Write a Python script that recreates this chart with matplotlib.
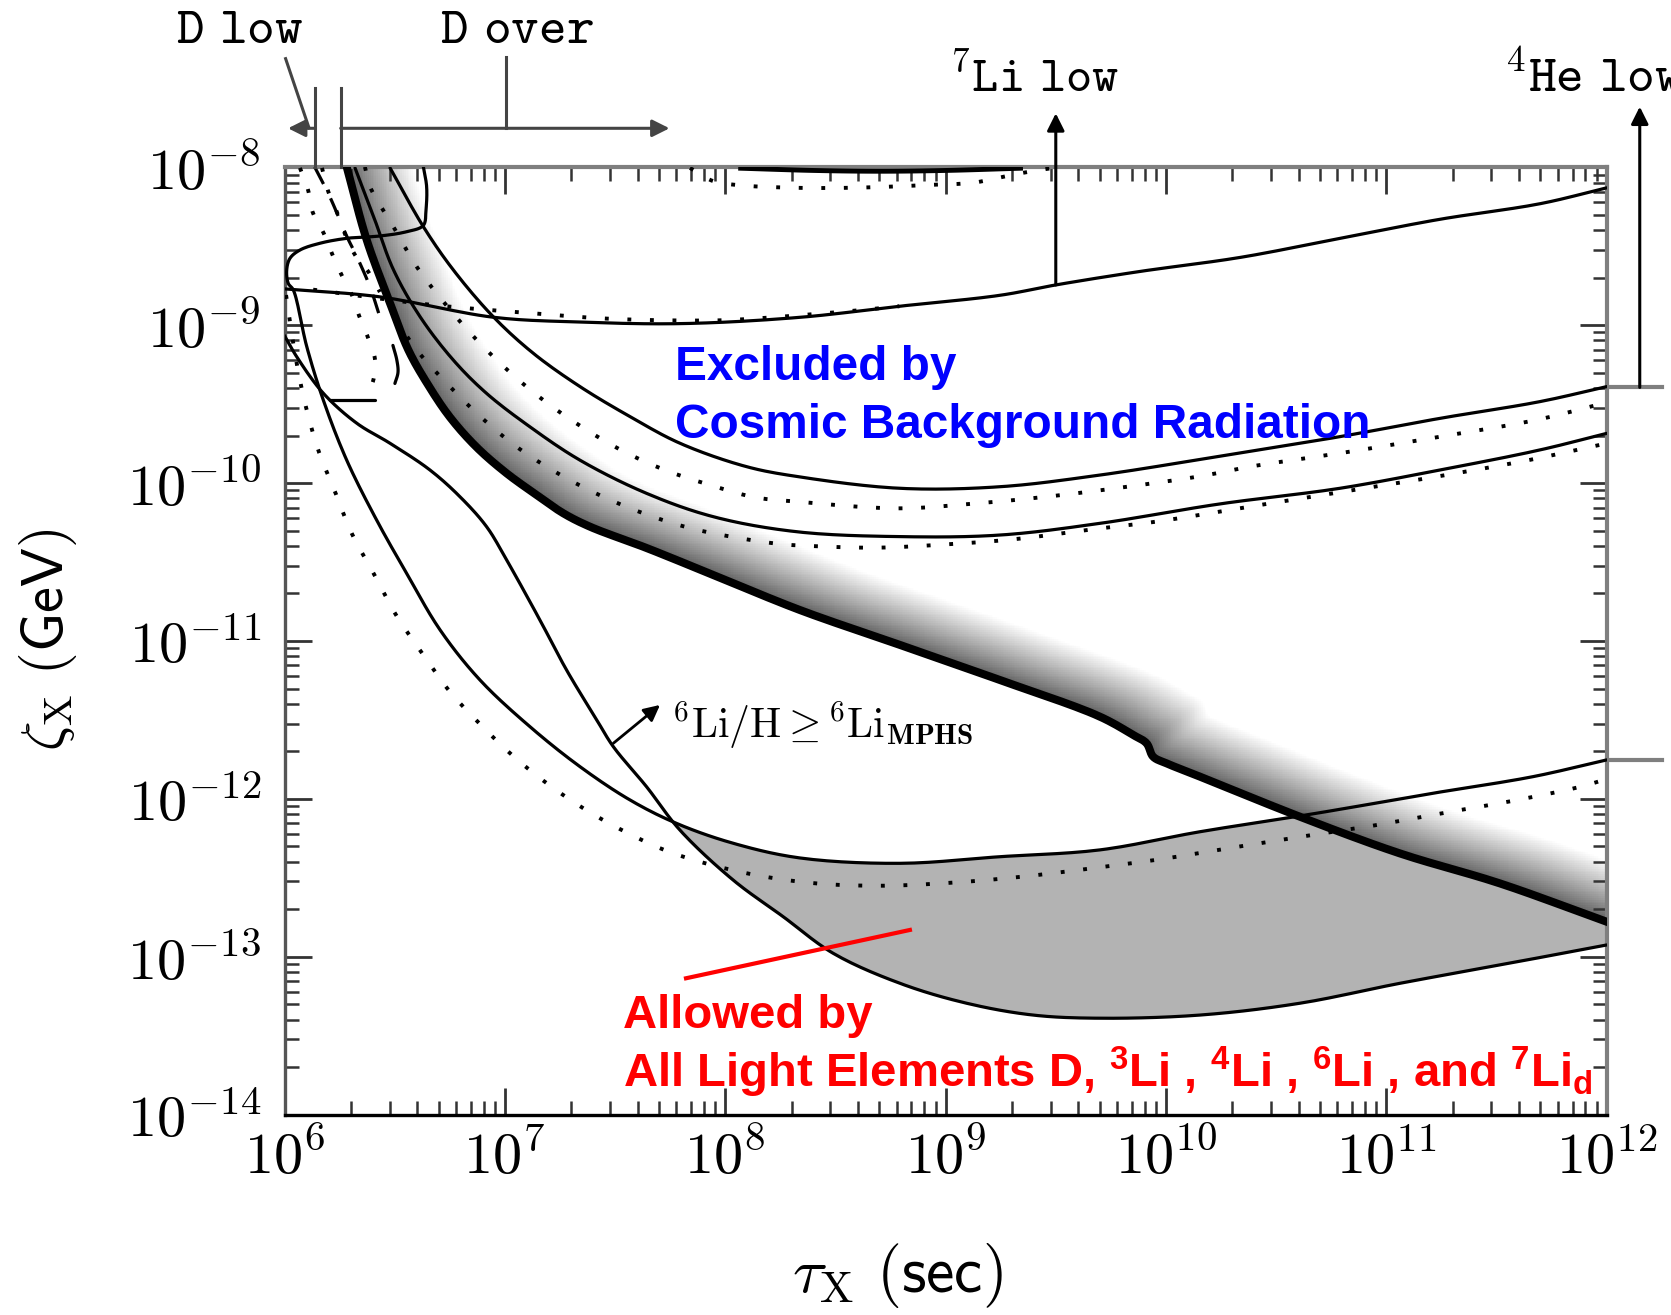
import numpy as np
import matplotlib
matplotlib.use("Agg")
import matplotlib.pyplot as plt
from matplotlib.ticker import LogLocator, FuncFormatter, NullFormatter

plt.rcParams['mathtext.fontset'] = 'cm'
# fonts used by the "custom" math family (bold sans for the red caption)
plt.rcParams['mathtext.rm'] = 'Liberation Sans:bold'
plt.rcParams['mathtext.it'] = 'Liberation Sans:bold'
plt.rcParams['mathtext.bf'] = 'Liberation Sans:bold'

# ---------------- data (log10 tau [s], log10 zeta [GeV]) ----------------
li7_X = [6.00, 6.43, 6.95, 7.34, 7.80, 8.34, 8.79, 9.25, 9.50, 9.88, 10.34, 10.79, 11.24, 11.70, 12.00]
li7_Y = [-8.77, -8.82, -8.95, -8.98, -8.99, -8.95, -8.88, -8.81, -8.745, -8.66, -8.57, -8.45, -8.33, -8.23, -8.13]
li7_dot_X = [6.13, 6.66, 7.13, 7.49, 7.94, 8.11, 8.57, 8.79]
li7_dot_Y = [-8.775, -8.87, -8.925, -8.96, -8.97, -8.96, -8.91, -8.88]

top_dot_X = [7.840, 7.944, 8.052, 8.262, 8.489, 8.702, 8.915, 9.124, 9.233, 9.323, 9.428, 9.518]
top_dot_Y = [-8.004, -8.087, -8.112, -8.128, -8.131, -8.125, -8.112, -8.098, -8.068, -8.042, -8.017, -7.998]
top_solid_X = [8.07, 8.40, 8.70, 9.00, 9.34]
top_solid_Y = [-8.006, -8.02, -8.025, -8.02, -8.006]

thick_X = [6.282, 6.373, 6.479, 6.562, 6.652, 6.751, 6.872, 7.008, 7.144, 7.265, 7.386, 7.643, 7.946,
           8.339, 8.793, 9.246, 9.700, 9.851, 9.912, 9.942, 10.003, 10.154, 10.608, 11.061, 11.515, 12.0]
thick_Y = [-7.996, -8.460, -8.861, -9.157, -9.379, -9.583, -9.773, -9.938, -10.075, -10.191, -10.276, -10.411, -10.582,
           -10.804, -11.025, -11.247, -11.479, -11.595, -11.648, -11.733, -11.775, -11.859, -12.113, -12.345, -12.535, -12.778]

outer_X = [6.479, 6.630, 6.766, 6.947, 7.129, 7.341, 7.568, 7.795, 8.097, 8.339, 8.793, 9.247, 9.701,
           10.230, 10.789, 11.243, 11.697, 12.0]
outer_Y = [-8.004, -8.376, -8.650, -8.946, -9.178, -9.389, -9.579, -9.748, -9.896, -9.961, -10.033, -10.023, -9.949,
           -9.833, -9.706, -9.590, -9.484, -9.389]
outer_dot_X = [6.365, 6.388, 6.494, 6.600, 6.725, 6.868, 7.015, 7.174, 7.348, 7.533, 7.726, 7.931, 8.135, 8.331,
               8.778, 9.095, 9.420, 9.738, 10.162, 10.381, 10.834, 11.243, 11.681, 11.984]
outer_dot_Y = [-7.998, -8.123, -8.376, -8.630, -8.858, -9.087, -9.288, -9.474, -9.643, -9.795, -9.917, -10.012,
               -10.090, -10.118, -10.160, -10.134, -10.092, -10.039, -9.955, -9.896, -9.801, -9.706, -9.600, -9.495]

mid_X = [6.320, 6.410, 6.494, 6.615, 6.766, 6.917, 7.114, 7.341, 7.643, 7.946, 8.324, 8.793, 9.247, 9.700,
         10.244, 10.789, 11.243, 11.697, 12.0]
mid_Y = [-8.004, -8.334, -8.648, -8.946, -9.221, -9.432, -9.644, -9.855, -10.065, -10.213, -10.308, -10.339,
         -10.329, -10.255, -10.132, -10.033, -9.917, -9.790, -9.685]
mid_dot_X = [6.501, 6.600, 6.743, 6.892, 7.056, 7.240, 7.428, 7.628, 7.832, 8.041, 8.248, 8.354, 8.679, 9.004,
             9.322, 9.640, 9.957, 10.381, 10.804, 11.228, 11.651, 11.969]
mid_dot_Y = [-8.954, -9.157, -9.378, -9.583, -9.773, -9.938, -10.075, -10.191, -10.282, -10.343, -10.386, -10.396,
             -10.409, -10.388, -10.354, -10.297, -10.244, -10.149, -10.054, -9.959, -9.853, -9.758]

li6_X = [6.0, 6.055, 6.176, 6.328, 6.479, 6.660, 6.796, 6.917, 7.008, 7.159, 7.280, 7.417, 7.492, 7.643, 7.794,
         8.036, 8.263, 8.490, 8.793, 9.095, 9.397, 9.700, 10.154, 10.608, 11.061, 11.515, 12.0]
li6_Y = [-9.066, -9.199, -9.431, -9.621, -9.748, -9.917, -10.086, -10.276, -10.487, -10.867, -11.184, -11.500,
         -11.669, -11.923, -12.197, -12.514, -12.746, -12.978, -13.168, -13.294, -13.369, -13.389, -13.369,
         -13.294, -13.168, -13.052, -12.925]

loop_X = [6.630, 6.645, 6.642, 6.630, 6.554, 6.433, 6.282, 6.161, 6.070, 6.025, 6.010, 6.017, 6.040, 6.101,
          6.176, 6.282, 6.418, 6.554, 6.706, 6.887, 7.114, 7.341, 7.568, 7.779, 8.036, 8.339, 8.793, 9.247,
          9.700, 10.154, 10.683, 11.212, 11.666, 12.0]
loop_Y = [-7.996, -8.123, -8.270, -8.368, -8.408, -8.435, -8.450, -8.481, -8.524, -8.576, -8.650, -8.735,
          -8.777, -9.136, -9.474, -9.854, -10.234, -10.571, -10.930, -11.247, -11.543, -11.796, -12.007,
          -12.155, -12.281, -12.374, -12.408, -12.366, -12.323, -12.208, -12.091, -11.964, -11.859, -11.753]

dotc_X = [6.007, 6.030, 6.061, 6.097, 6.153, 6.229, 6.305, 6.406, 6.506, 6.623, 6.746, 6.887, 7.038, 7.197,
          7.374, 7.560, 7.757, 8.064, 8.381, 8.699, 9.024, 9.345, 9.662, 9.980, 10.300, 10.615, 10.937,
          11.250, 11.571, 11.881, 12.0]
dotc_Y = [-8.809, -9.030, -9.284, -9.516, -9.790, -10.054, -10.318, -10.576, -10.835, -11.074, -11.313,
          -11.526, -11.729, -11.908, -12.075, -12.218, -12.341, -12.461, -12.531, -12.550, -12.531, -12.493,
          -12.440, -12.381, -12.309, -12.239, -12.170, -12.091, -12.013, -11.923, -11.874]

dlow1_X = [6.070, 6.107, 6.127, 6.178, 6.218, 6.259, 6.306, 6.340, 6.380, 6.411, 6.401, 6.370]
dlow1_Y = [-8.004, -8.144, -8.281, -8.418, -8.555, -8.682, -8.809, -8.946, -9.083, -9.220, -9.358, -9.442]
dlow2_X = [6.170, 6.199, 6.237, 6.267, 6.320, 6.380, 6.433]
dlow2_Y = [-8.004, -8.155, -8.281, -8.397, -8.555, -8.661, -8.790]
dlow_dash_X = [6.137, 6.206, 6.284, 6.329, 6.388, 6.433]
dlow_dash_Y = [-7.998, -8.188, -8.441, -8.568, -8.758, -8.948]
arc_X = [6.492, 6.510, 6.515, 6.501]
arc_Y = [-9.128, -9.223, -9.299, -9.369]
bar_X = [6.206, 6.411]
bar_Y = [-9.474, -9.474]

# ---------------- figure ----------------
fig = plt.figure(figsize=(16.71, 13.15), dpi=100)
ax = fig.add_axes([0.17026, 0.15232, 0.79126, 0.72046])
ax.set_xscale('log')
ax.set_yscale('log')
ax.set_xlim(1e6, 1e12)
ax.set_ylim(1e-14, 1e-8)


def P(v):
    return 10.0 ** np.asarray(v, float)


# pixels per decade on each axis
p0 = ax.transData.transform((1e6, 1e-14))
p1 = ax.transData.transform((1e12, 1e-8))
sx = (p1[0] - p0[0]) / 6.0
sy = (p1[1] - p0[1]) / 6.0


def smooth(xs, ys, n=14):
    """Centripetal Catmull-Rom curve through the given (log) points."""
    x = np.asarray(xs, float) * sx
    y = np.asarray(ys, float) * sy
    if len(x) < 3:
        return np.asarray(xs, float), np.asarray(ys, float)
    pts = np.c_[x, y]
    pts = np.vstack([2 * pts[0] - pts[1], pts, 2 * pts[-1] - pts[-2]])
    out = []
    for i in range(len(pts) - 3):
        P0, P1, P2, P3 = pts[i], pts[i + 1], pts[i + 2], pts[i + 3]
        t0 = 0.0
        t1 = t0 + max(np.hypot(*(P1 - P0)), 1e-6) ** 0.5
        t2 = t1 + max(np.hypot(*(P2 - P1)), 1e-6) ** 0.5
        t3 = t2 + max(np.hypot(*(P3 - P2)), 1e-6) ** 0.5
        tt = np.linspace(t1, t2, n, endpoint=False)[:, None]
        A1 = (t1 - tt) / (t1 - t0) * P0 + (tt - t0) / (t1 - t0) * P1
        A2 = (t2 - tt) / (t2 - t1) * P1 + (tt - t1) / (t2 - t1) * P2
        A3 = (t3 - tt) / (t3 - t2) * P2 + (tt - t2) / (t3 - t2) * P3
        B1 = (t2 - tt) / (t2 - t0) * A1 + (tt - t0) / (t2 - t0) * A2
        B2 = (t3 - tt) / (t3 - t1) * A2 + (tt - t1) / (t3 - t1) * A3
        out.append((t2 - tt) / (t2 - t1) * B1 + (tt - t1) / (t2 - t1) * B2)
    out.append(pts[-2][None, :])
    c = np.vstack(out)
    return c[:, 0] / sx, c[:, 1] / sy


# shaded band above the heavy line: grey fading to white along an up-right offset
thX, thY = smooth(thick_X, thick_Y)
nx, ny = 720, 520
xe = np.linspace(6, 12, nx + 1)
ye = np.linspace(-14, -8, ny + 1)
XC, YC = np.meshgrid(0.5 * (xe[1:] + xe[:-1]), 0.5 * (ye[1:] + ye[:-1]))
U = (XC - 6) * sx
V = (YC + 14) * sy
tu = np.maximum.accumulate((thX - 6) * sx)
tv = (thY + 14) * sy
dx, dy, W = 0.8, 0.6, 70.0


def above(s):
    return (V - dy * s) - np.interp(U - dx * s, tu, tv)


inside = (above(0.0) > 0) & (above(W) <= 0)
lo = np.zeros_like(U)
hi = np.full_like(U, W)
for _ in range(22):
    mid = 0.5 * (lo + hi)
    pos = above(mid) > 0
    lo = np.where(pos, mid, lo)
    hi = np.where(pos, hi, mid)
t = lo / W
shade = np.ma.masked_where(~inside, 0.36 + 0.64 * t ** 0.9)
ax.pcolormesh(P(xe), P(ye), shade, cmap='gray', vmin=0, vmax=1, shading='flat', zorder=1.5)

# allowed region
lpX, lpY = smooth(loop_X, loop_Y)
l6X, l6Y = smooth(li6_X, li6_Y)
xf = np.linspace(7.5, 12.0, 900)
right = np.arange(len(lpX)) > np.argmin(lpX)
low = np.interp(xf, np.maximum.accumulate(l6X), l6Y)
upp = np.minimum(np.interp(xf, np.maximum.accumulate(lpX[right]), lpY[right]), np.interp(xf, tu / sx + 6, thY))
ax.fill_between(P(xf), P(low), P(upp), where=upp > low, interpolate=True,
                color='#b3b3b3', lw=0, zorder=1)

solid = dict(color='k', lw=2.3, solid_capstyle='round', solid_joinstyle='round', zorder=3)
dotted = dict(color='k', lw=2.8, ls=(0, (1, 4.8)), dash_capstyle='butt', zorder=3)


def curve(xs, ys, **kw):
    cx, cy = smooth(xs, ys)
    ax.plot(P(cx), P(cy), **kw)


curve(li7_X, li7_Y, **solid)
curve(li7_dot_X, li7_dot_Y, **dotted)
curve(top_solid_X, top_solid_Y, color='k', lw=3.5, zorder=3)
curve(top_dot_X, top_dot_Y, **dotted)
curve(outer_X, outer_Y, **solid)
curve(outer_dot_X, outer_dot_Y, **dotted)
curve(mid_X, mid_Y, **solid)
curve(mid_dot_X, mid_dot_Y, **dotted)
ax.plot(P(thX), P(thY), color='k', lw=5.8, solid_joinstyle='round', zorder=3.2)
ax.plot(P(l6X), P(l6Y), **solid)
ax.plot(P(lpX), P(lpY), **solid)
curve(dotc_X, dotc_Y, **dotted)
curve(dlow1_X, dlow1_Y, **dotted)
curve(dlow2_X, dlow2_Y, **dotted)
curve(dlow_dash_X, dlow_dash_Y, color='k', lw=2.3, ls=(0, (6, 5)), zorder=3)
curve(arc_X, arc_Y, **solid)
ax.plot(P(bar_X), P(bar_Y), **solid)

# 6Li label with its arrow
arrow = dict(arrowstyle='-|>', color='k', lw=2.0, mutation_scale=24, shrinkA=0, shrinkB=0)
ax.annotate('', xy=(P(7.704), P(-11.405)), xytext=(P(7.492), P(-11.648)), arrowprops=arrow, zorder=4)
ax.text(P(7.757), P(-11.614), r'$^{6}{\rm Li}/{\rm H}\geq{}^{6}{\rm Li}_{\bf MPHS}$',
        fontsize=30, ha='left', va='baseline', zorder=4)

# red pointer into the allowed region
ax.plot(P([7.822, 8.838]), P([-13.136, -12.830]), color='#ff0000', lw=3.0, zorder=4)

# markers above and right of the frame
lab = dict(color='#444444', lw=2.2, clip_on=False, zorder=4)
ax.plot(P([6.137, 6.137]), P([-7.5, -8.0]), **lab)
ax.plot(P([6.255, 6.255]), P([-7.5, -8.0]), **lab)
ax.plot(P([7.004, 7.004]), P([-7.753, -7.300]), **lab)
ax.plot(P([6.005, 6.111]), P([-7.312, -7.750]), **lab)
arrow_g = dict(arrowstyle='-|>', color='#444444', lw=2.2, mutation_scale=26, shrinkA=0, shrinkB=0)
ax.annotate('', xy=(P(6.016), P(-7.753)), xytext=(P(6.137), P(-7.753)),
            arrowprops=arrow_g, annotation_clip=False)
ax.annotate('', xy=(P(7.747), P(-7.753)), xytext=(P(6.255), P(-7.753)),
            arrowprops=arrow_g, annotation_clip=False)
arrow_k = dict(arrowstyle='-|>', color='k', lw=2.2, mutation_scale=26, shrinkA=0, shrinkB=0)
ax.annotate('', xy=(P(9.5), P(-7.658)), xytext=(P(9.5), P(-8.745)),
            arrowprops=arrow_k, annotation_clip=False)
ax.annotate('', xy=(P(12.15), P(-7.616)), xytext=(P(12.15), P(-9.394)),
            arrowprops=arrow_k, annotation_clip=False)
ax.plot(P([12.0, 12.25]), P([-9.394, -9.394]), color='#7f7f7f', lw=3, clip_on=False)
ax.plot(P([12.0, 12.25]), P([-11.753, -11.753]), color='#7f7f7f', lw=3, clip_on=False)

# ---------------- axes styling ----------------
for s in ('top', 'right'):
    ax.spines[s].set_color('#7f7f7f')
    ax.spines[s].set_linewidth(3.0)
ax.spines['left'].set_color('#555555')
ax.spines['left'].set_linewidth(2.4)
ax.spines['bottom'].set_color('black')
ax.spines['bottom'].set_linewidth(2.4)

fmt = FuncFormatter(lambda v, p: r'$10^{%d}$' % int(round(np.log10(v))))
for axis in (ax.xaxis, ax.yaxis):
    axis.set_major_locator(LogLocator(base=10, numticks=20))
    axis.set_minor_locator(LogLocator(base=10, subs=np.arange(2, 10), numticks=20))
    axis.set_major_formatter(fmt)
    axis.set_minor_formatter(NullFormatter())
ax.tick_params(which='both', direction='in', top=True, right=True, color='#333333', labelcolor='black')
ax.tick_params(which='major', length=19.5, width=2.0, labelsize=42)
ax.tick_params(which='minor', length=10, width=1.8)
ax.tick_params(axis='x', which='major', pad=10)
ax.tick_params(axis='y', which='major', pad=17)

fig.text(0.5368, 0.0177, r'$\tau_{\rm X}\ (\mathsf{sec})$', ha='center', va='baseline', fontsize=46)
fig.text(0.0287, 0.5133, r'$\zeta_{\rm X}\ (\mathsf{GeV})$', rotation=90, ha='center', va='center', fontsize=42)

fig.text(0.1053, 0.9673, r'$\mathtt{D\ low}$', fontsize=38, ha='left', va='baseline')
fig.text(0.2633, 0.9673, r'$\mathtt{D\ over}$', fontsize=38, ha='left', va='baseline')
fig.text(0.5682, 0.930, r'$^{7}\mathtt{Li\ low}$', fontsize=36, ha='left', va='baseline')
fig.text(0.9000, 0.930, r'$^{4}\mathtt{He\ low}$', fontsize=38, ha='left', va='baseline')

blue = dict(color='#0000ff', fontsize=34.4, fontweight='bold', family='Liberation Sans', ha='left', va='baseline')
fig.text(0.4037, 0.7110, 'Excluded by', **blue)
fig.text(0.4037, 0.6669, 'Cosmic Background Radiation', **blue)

red = dict(color='#ff0000', fontsize=34, fontweight='bold', family='Liberation Sans', ha='left', va='baseline',
           math_fontfamily='custom')
fig.text(0.3731, 0.2183, 'Allowed by', **red)
fig.text(0.3731, 0.1734, r'All Light Elements D, $^{3}$Li , $^{4}$Li , $^{6}$Li , and $^{7}$Li$_{d}$', **red)

fig.savefig('out.png', dpi=100)
